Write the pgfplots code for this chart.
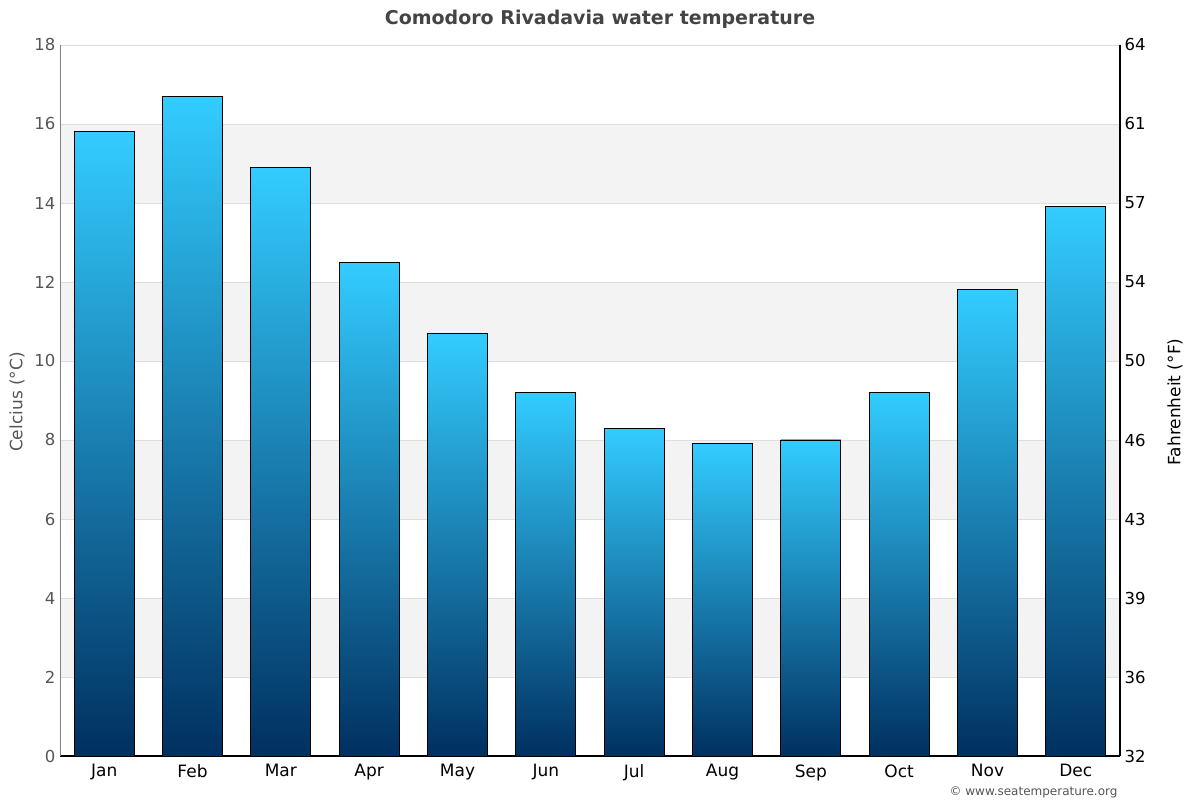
\documentclass[border=0pt]{standalone}
\usepackage{pgfplots}
\pgfplotsset{compat=1.18}
\usepackage{fontspec}
\setmainfont{DejaVu Sans}
\definecolor{barTop}{RGB}{51,204,255}
\definecolor{barBot}{RGB}{0,48,96}
\definecolor{band}{RGB}{243,243,243}
\definecolor{gridc}{RGB}{222,222,222}
\definecolor{ticklab}{RGB}{85,85,85}
\definecolor{titlec}{RGB}{68,68,68}
\pgfplotsset{onebar/.style={ybar, bar width=60pt, bar shift=0pt, draw=black, line width=0.9pt, top color=barTop, bottom color=barBot}}
\begin{document}
\begin{tikzpicture}[x=1pt,y=1pt]
\begin{axis}[at={(60pt,44pt)}, anchor=south west, scale only axis,
  width=1060pt, height=711pt,
  set layers=standard,
  xmin=-0.5, xmax=11.5, ymin=0, ymax=18,
  axis x line*=bottom, axis y line*=left,
  x axis line style={line width=2.2pt, black},
  y axis line style={line width=1pt, color=gray},
  xtick={0,...,11},
  xticklabels={Jan,Feb,Mar,Apr,May,Jun,Jul,Aug,Sep,Oct,Nov,Dec},
  ytick={0,2,...,18},
  major tick length=0pt,
  ymajorgrids, grid style={gridc, line width=0.8pt},
  /pgf/number format/assume math mode=true,
  x tick label style={font=\fontsize{17}{20}\selectfont, black, yshift=-5pt},
  y tick label style={font=\fontsize{16.5}{20}\selectfont, ticklab, xshift=-1pt},
  clip=false,
]
\addplot[fill=band, draw=none, on layer=axis background] coordinates {(-0.5,2) (11.5,2) (11.5,4) (-0.5,4)};
\addplot[fill=band, draw=none, on layer=axis background] coordinates {(-0.5,6) (11.5,6) (11.5,8) (-0.5,8)};
\addplot[fill=band, draw=none, on layer=axis background] coordinates {(-0.5,10) (11.5,10) (11.5,12) (-0.5,12)};
\addplot[fill=band, draw=none, on layer=axis background] coordinates {(-0.5,14) (11.5,14) (11.5,16) (-0.5,16)};
\addplot[onebar] coordinates {(0,15.8)};
\addplot[onebar] coordinates {(1,16.7)};
\addplot[onebar] coordinates {(2,14.9)};
\addplot[onebar] coordinates {(3,12.5)};
\addplot[onebar] coordinates {(4,10.7)};
\addplot[onebar] coordinates {(5,9.2)};
\addplot[onebar] coordinates {(6,8.3)};
\addplot[onebar] coordinates {(7,7.9)};
\addplot[onebar] coordinates {(8,8.0)};
\addplot[onebar] coordinates {(9,9.2)};
\addplot[onebar] coordinates {(10,11.8)};
\addplot[onebar] coordinates {(11,13.9)};
\end{axis}
\begin{axis}[at={(60pt,44pt)}, anchor=south west, scale only axis,
  width=1060pt, height=711pt,
  xmin=-0.5, xmax=11.5, ymin=0, ymax=18,
  axis y line*=right, hide x axis,
  y axis line style={line width=1.2pt, black},
  ytick={0,2,...,18},
  yticklabels={32,36,39,43,46,50,54,57,61,64},
  major tick length=0pt,
  y tick label style={font=\fontsize{16.5}{20}\selectfont, black, xshift=1pt},
]
\addplot[draw=none] coordinates {(0,0)};
\end{axis}
\node[font=\bfseries\fontsize{19}{23}\selectfont, color=titlec] at (600,781) {Comodoro Rivadavia water temperature};
\node[rotate=90, font=\fontsize{17}{20}\selectfont, color=ticklab] at (17,398) {Celcius (°C)};
\node[rotate=90, font=\fontsize{17}{20}\selectfont, black] at (1175,398) {Fahrenheit (°F)};
\node[anchor=east, font=\fontsize{12}{14}\selectfont, color=ticklab] at (1121,8) {© www.seatemperature.org};
\pgfresetboundingbox
\path[use as bounding box] (0,0) rectangle (1200,800);
\end{tikzpicture}
\end{document}
